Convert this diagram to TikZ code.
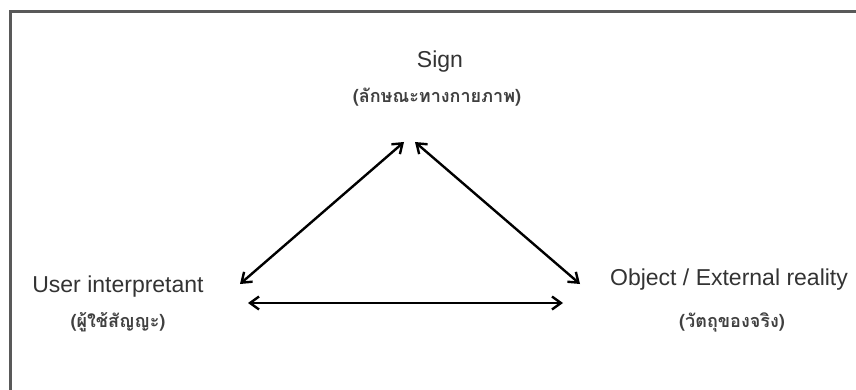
\documentclass[tikz,border=0pt]{standalone}
\usepackage{fontspec}
\setmainfont{Liberation Sans}
\newfontfamily\thaifont[Script=Thai]{Loma}
\usetikzlibrary{arrows.meta}
\begin{document}
\begin{tikzpicture}[x=1pt,y=-1pt,
  lbl/.style={font=\fontsize{23}{27}\selectfont, text=black!80, inner sep=0pt},
  thl/.style={font=\thaifont\bfseries\fontsize{18}{21}\selectfont, text=black!75, inner sep=0pt},
  link/.style={line width=2.4pt, {Straight Barb[length=9pt,width=13pt,line width=2.4pt]}-{Straight Barb[length=9pt,width=13pt,line width=2.4pt]}}]
\useasboundingbox (0,0) rectangle (856,390);
\fill[white] (0,0) rectangle (856,390);
\draw[line width=3pt, black!65] (10,392) -- (10,12) -- (858,12);
\node[lbl] (sign) at (440,62) {Sign};
\node[thl] (signth) at (437,97) {(ลักษณะทางกายภาพ)};
\node[lbl] (user) at (118,287) {User interpretant};
\node[thl] (userth) at (118,322) {(ผู้ใช้สัญญะ)};
\node[lbl] (obj) at (729,280) {Object / External reality};
\node[thl] (objth) at (732,322) {(วัตถุของจริง)};
\coordinate (sL) at (404,142);
\coordinate (sR) at (415,142);
\coordinate (uT) at (240,284);
\coordinate (oT) at (580,284);
\coordinate (uH) at (248,303);
\coordinate (oH) at (563,303);
\draw[link] (uT) -- (sL);
\draw[link] (sR) -- (oT);
\draw[link] (uH) -- (oH);
\end{tikzpicture}
\end{document}
